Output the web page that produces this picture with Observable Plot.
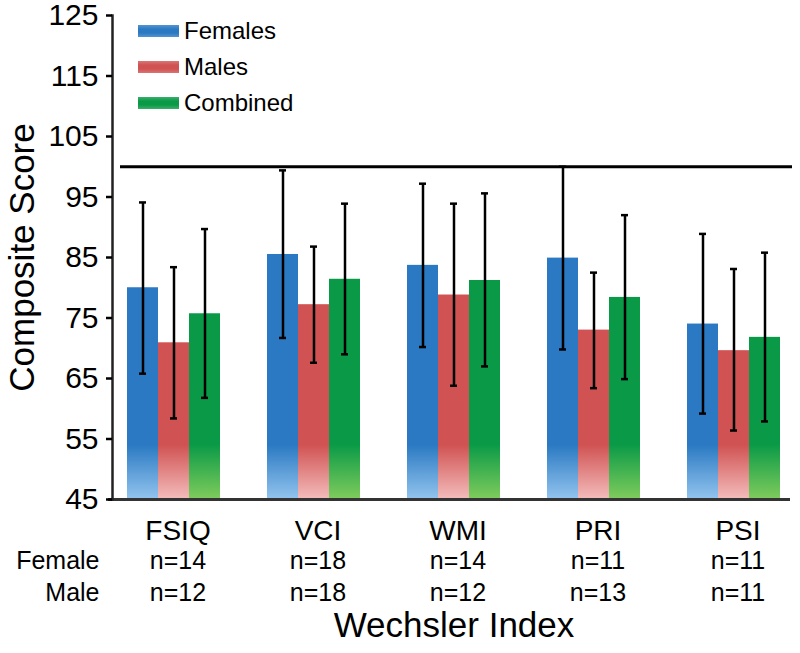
<!DOCTYPE html>
<html><head><meta charset="utf-8">
<script src="https://cdn.jsdelivr.net/npm/d3@7"></script>
<script src="https://cdn.jsdelivr.net/npm/@observablehq/plot@0.6"></script>
<style>
body{margin:0;background:#fff;font-family:"Liberation Sans",Arial,sans-serif;}
#wrap{position:relative;width:800px;height:653px;}
.item{position:absolute;left:138px;height:26px;display:flex;align-items:center;white-space:nowrap;font-size:24px;color:#000;}
.sw{display:inline-block;width:41px;height:12px;margin-right:5px;}
</style></head><body><div id="wrap"></div>
<script>
// ---- data ----
const categories = ["FSIQ", "VCI", "WMI", "PRI", "PSI"];
const seriesNames = ["Females", "Males", "Combined"];
const femaleMean = [80.0, 85.5, 83.7, 84.9, 74.0];
const femaleLow  = [65.8, 71.7, 70.2, 69.8, 59.2];
const femaleHigh = [94.1, 99.4, 97.2, 100.0, 88.9];
const maleMean = [70.9, 77.2, 78.8, 73.0, 69.6];
const maleLow  = [58.4, 67.6, 63.8, 63.4, 56.4];
const maleHigh = [83.4, 86.8, 93.9, 82.5, 83.1];
const combinedMean = [75.7, 81.4, 81.2, 78.4, 71.8];
const combinedLow  = [61.8, 69.0, 67.0, 64.9, 57.9];
const combinedHigh = [89.7, 93.9, 95.6, 92.0, 85.8];
const femaleN = ["n=14", "n=18", "n=14", "n=11", "n=11"];
const maleN   = ["n=12", "n=18", "n=12", "n=13", "n=11"];
const rowLabels = ["Female", "Male"];
const yTicks = [45, 55, 65, 75, 85, 95, 105, 115, 125];
const referenceValue = [100];
const yTitle = ["Composite Score"];
const xTitle = ["Wechsler Index"];

// ---- styles (not data) ----
const seriesStyle = {
  Females:  {top: "#2a79c2", bottom: "#93c4ee", insetLeft: 0,  insetRight: 62, dx: -31, capL: 12, capR: 74},
  Males:    {top: "#d05252", bottom: "#f4bcbc", insetLeft: 31, insetRight: 31, dx: 0,   capL: 43, capR: 43},
  Combined: {top: "#0a9a47", bottom: "#80cc5c", insetLeft: 62, insetRight: 0,  dx: 31,  capL: 74, capR: 12}
};

const table = {
  Females:  {mean: femaleMean, low: femaleLow, high: femaleHigh},
  Males:    {mean: maleMean, low: maleLow, high: maleHigh},
  Combined: {mean: combinedMean, low: combinedLow, high: combinedHigh}
};
const rows = seriesNames.flatMap(s => categories.map((c, i) => ({
  cat: c, series: s, value: table[s].mean[i], lo: table[s].low[i], hi: table[s].high[i]
})));

const gradId = s => "grad-" + s;
const defsMark = (index, scales) => {
  const defs = d3.create("svg:defs");
  for (const s of seriesNames) {
    const g = defs.append("linearGradient").attr("id", gradId(s))
      .attr("gradientUnits", "userSpaceOnUse")
      .attr("x1", 0).attr("x2", 0)
      .attr("y1", scales.y(54)).attr("y2", scales.y(45));
    g.append("stop").attr("offset", 0).attr("stop-color", seriesStyle[s].top);
    g.append("stop").attr("offset", 1).attr("stop-color", seriesStyle[s].bottom);
  }
  return defs.node();
};

const marks = [defsMark];
for (const s of seriesNames) {
  const st = seriesStyle[s];
  const data = rows.filter(d => d.series === s);
  marks.push(Plot.barY(data, {x: "cat", y1: 45, y2: "value", fill: `url(#${gradId(s)})`,
    insetLeft: st.insetLeft, insetRight: st.insetRight}));
}
for (const s of seriesNames) {
  const st = seriesStyle[s];
  const data = rows.filter(d => d.series === s);
  marks.push(Plot.ruleX(data, {x: "cat", y1: "lo", y2: "hi", dx: st.dx, stroke: "#000", strokeWidth: 2.5}));
  marks.push(Plot.tickY(data, {x: "cat", y: "lo", insetLeft: st.capL, insetRight: st.capR, stroke: "#000", strokeWidth: 2.5}));
  marks.push(Plot.tickY(data, {x: "cat", y: "hi", insetLeft: st.capL, insetRight: st.capR, stroke: "#000", strokeWidth: 2.5}));
}
marks.push(
  Plot.ruleY(referenceValue, {stroke: "#000", strokeWidth: 3, insetLeft: 8, insetRight: 3}),
  Plot.ruleY([45], {stroke: "#333", strokeWidth: 3, insetLeft: -4, insetRight: 5}),
  Plot.frame({anchor: "left", stroke: "#222", strokeWidth: 2.5}),
  Plot.axisY({ticks: yTicks, tickSize: 6, tickPadding: 8, fontSize: 30, strokeWidth: 2.5, label: null, tickFormat: d => String(d)}),
  Plot.text(yTitle, {frameAnchor: "left", dx: -90, rotate: -90, textAnchor: "middle", fontSize: 35, fill: "#000"}),
  Plot.text(categories, {x: d => d, frameAnchor: "bottom", dx: 4, dy: 21, lineAnchor: "top", fontSize: 28, fill: "#000"}),
  Plot.text(femaleN, {x: (d, i) => categories[i], frameAnchor: "bottom", dx: 4, dy: 52, lineAnchor: "top", fontSize: 25, fill: "#000"}),
  Plot.text(maleN, {x: (d, i) => categories[i], frameAnchor: "bottom", dx: 4, dy: 84, lineAnchor: "top", fontSize: 25, fill: "#000"}),
  Plot.text(rowLabels.slice(0, 1), {frameAnchor: "bottom-left", dx: -13, dy: 52, lineAnchor: "top", textAnchor: "end", fontSize: 25, fill: "#000"}),
  Plot.text(rowLabels.slice(1, 2), {frameAnchor: "bottom-left", dx: -13, dy: 84, lineAnchor: "top", textAnchor: "end", fontSize: 25, fill: "#000"}),
  Plot.text(xTitle, {frameAnchor: "bottom", dy: 113, lineAnchor: "top", fontSize: 35, fill: "#000"})
);

const chart = Plot.plot({
  width: 800, height: 653,
  marginTop: 15, marginBottom: 154, marginLeft: 112, marginRight: 5,
  style: {fontFamily: "'Liberation Sans', Arial, sans-serif", background: "#fff", color: "#000", overflow: "visible"},
  x: {domain: categories, paddingInner: 0.3357, paddingOuter: 0.107, axis: null},
  y: {domain: [45, 125], axis: null},
  marks
});
const wrap = document.getElementById("wrap");
wrap.appendChild(chart);

// legend overlay
const legendTops = [18, 53.5, 89.5];
seriesNames.forEach((s, i) => {
  const st = seriesStyle[s];
  const item = document.createElement("div");
  item.className = "item";
  item.style.top = legendTops[i] + "px";
  const sw = document.createElement("span");
  sw.className = "sw";
  sw.style.background = `linear-gradient(to bottom, ${st.top}cc, ${st.top} 35%, ${st.top} 65%, ${st.top}cc)`;
  item.appendChild(sw);
  item.appendChild(document.createTextNode(s));
  wrap.appendChild(item);
});
</script></body></html>
